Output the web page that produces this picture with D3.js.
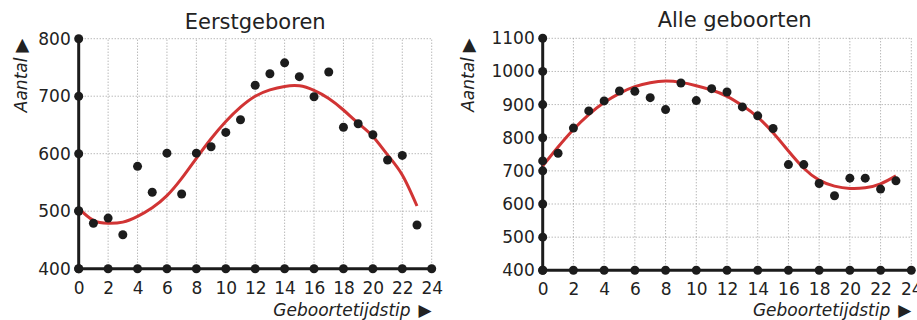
<!DOCTYPE html>
<html>
<head>
<meta charset="utf-8">
<script src="https://cdn.jsdelivr.net/npm/d3@7"></script>
<style>
  body { margin: 0; background: #fff; }
  svg { display: block; font-family: "DejaVu Sans", Verdana, sans-serif; }
</style>
</head>
<body>
<svg></svg>
<script>
const width = 917,
  height = 320;

// hours of the day (x categories)
const hours = [0, 1, 2, 3, 4, 5, 6, 7, 8, 9, 10, 11, 12, 13, 14, 15, 16, 17, 18, 19, 20, 21, 22, 23];
const hourTicks = [0, 2, 4, 6, 8, 10, 12, 14, 16, 18, 20, 22, 24];

// Eerstgeboren: dots and red trend line
const firstbornCounts = [501, 479, 488, 459, 578, 533, 601, 530, 601, 612, 637, 659,
                         719, 739, 758, 734, 699, 742, 646, 652, 633, 589, 597, 476];
const firstbornTrend = [505, 484, 479, 481, 491, 506, 527, 557, 592, 626, 656, 681,
                        700, 711, 717, 718, 710, 696, 676, 653, 630, 598, 563, 509];
const firstbornTicks = [400, 500, 600, 700, 800];

// Alle geboorten: dots and red trend line
const allCounts = [730, 753, 829, 881, 911, 941, 940, 921, 885, 965, 912, 948,
                   938, 893, 866, 828, 719, 719, 662, 625, 678, 678, 645, 670];
const allTrend = [715, 772, 825, 870, 906, 934, 954, 966, 971, 967, 957, 944,
                  925, 897, 862, 815, 760, 708, 672, 654, 647, 649, 661, 685];
const allTicks = [400, 500, 600, 700, 800, 900, 1000, 1100];

const ink = "#1c1c1c",
  red = "#d13434",
  gridColor = "#9a9a9a";

const svg = d3.select("svg")
  .attr("width", width)
  .attr("height", height);

function panel(o) {
  const x = d3.scaleLinear().domain([0, 24]).range([o.left, o.right]);
  const y = d3.scaleLinear().domain([o.yTicks[0], o.yTicks[o.yTicks.length - 1]])
    .range([o.bottom, o.top]);

  const g = svg.append("g");

  // dotted grid
  g.selectAll(".vgrid")
    .data(hourTicks.slice(1))
    .enter().append("line")
    .attr("x1", d => x(d)).attr("x2", d => x(d))
    .attr("y1", y.range()[0]).attr("y2", y.range()[1])
    .attr("stroke", gridColor)
    .attr("stroke-width", 1)
    .attr("stroke-dasharray", "1,2");

  g.selectAll(".hgrid")
    .data(o.yTicks.slice(1))
    .enter().append("line")
    .attr("x1", x(0)).attr("x2", x(24))
    .attr("y1", d => y(d)).attr("y2", d => y(d))
    .attr("stroke", gridColor)
    .attr("stroke-width", 1)
    .attr("stroke-dasharray", "1,2");

  // tick labels through d3 axes
  const xAxis = g.append("g")
    .attr("transform", `translate(0,${y(o.yTicks[0])})`)
    .call(d3.axisBottom(x).tickValues(hourTicks).tickFormat(d3.format("d"))
      .tickSize(0).tickPadding(13));
  const yAxis = g.append("g")
    .attr("transform", `translate(${x(0)},0)`)
    .call(d3.axisLeft(y).tickValues(o.yTicks).tickFormat(d3.format("d"))
      .tickSize(0).tickPadding(8));
  [xAxis, yAxis].forEach(a => {
    a.select(".domain").remove();
    a.attr("font-size", 17)
      .attr("font-family", "DejaVu Sans, Verdana, sans-serif");
    a.selectAll("text").attr("fill", "#222");
  });

  // thick axes
  g.append("line")
    .attr("x1", x(0)).attr("x2", x(0))
    .attr("y1", y.range()[0]).attr("y2", y.range()[1])
    .attr("stroke", ink).attr("stroke-width", 3);
  g.append("line")
    .attr("x1", x(0)).attr("x2", x(24))
    .attr("y1", y(o.yTicks[0])).attr("y2", y(o.yTicks[0]))
    .attr("stroke", ink).attr("stroke-width", 3);

  g.selectAll(".xdot")
    .data(hourTicks)
    .enter().append("circle")
    .attr("cx", d => x(d)).attr("cy", y(o.yTicks[0]))
    .attr("r", 4.5).attr("fill", ink);
  g.selectAll(".ydot")
    .data(o.yTicks)
    .enter().append("circle")
    .attr("cx", x(0)).attr("cy", d => y(d))
    .attr("r", 4.5).attr("fill", ink);

  // trend line
  const line = d3.line()
    .x((d, i) => x(hours[i]))
    .y(d => y(d))
    .curve(d3.curveNatural);
  g.append("path")
    .datum(o.trend)
    .attr("d", line)
    .attr("fill", "none")
    .attr("stroke", red)
    .attr("stroke-width", 3);

  // data points
  g.selectAll(".pt")
    .data(o.counts)
    .enter().append("circle")
    .attr("cx", (d, i) => x(hours[i]))
    .attr("cy", d => y(d))
    .attr("r", 4.5)
    .attr("fill", ink);

  // title
  g.append("text")
    .attr("x", x(o.titleAt))
    .attr("y", o.titleY)
    .attr("text-anchor", "middle")
    .attr("font-size", 21)
    .attr("fill", "#222")
    .text(o.title);

  // y label, rotated so the arrow points up
  g.append("text")
    .attr("transform", `translate(${o.yLabelX},${y.range()[1]}) rotate(-90)`)
    .attr("text-anchor", "end")
    .attr("font-size", 17)
    .attr("fill", "#222")
    .call(t => {
      t.append("tspan").attr("font-style", "italic").text("Aantal");
      t.append("tspan").attr("dx", 5).attr("font-size", 18).text("\u25B6");
    });

  // x label
  g.append("text")
    .attr("x", x(24))
    .attr("y", 316)
    .attr("text-anchor", "end")
    .attr("font-size", 17)
    .attr("fill", "#222")
    .call(t => {
      t.append("tspan").attr("font-style", "italic").text("Geboortetijdstip");
      t.append("tspan").attr("dx", 8).text("\u25B6");
    });
}

panel({
  title: "Eerstgeboren",
  titleAt: 12, titleY: 29,
  counts: firstbornCounts, trend: firstbornTrend, yTicks: firstbornTicks,
  left: 78.7, right: 431.7, top: 38.7, bottom: 268.7,
  yLabelX: 27
});

panel({
  title: "Alle geboorten",
  titleAt: 12.5, titleY: 27,
  counts: allCounts, trend: allTrend, yTicks: allTicks,
  left: 542.7, right: 911.3, top: 38.3, bottom: 270.3,
  yLabelX: 474
});
</script>
</body>
</html>
